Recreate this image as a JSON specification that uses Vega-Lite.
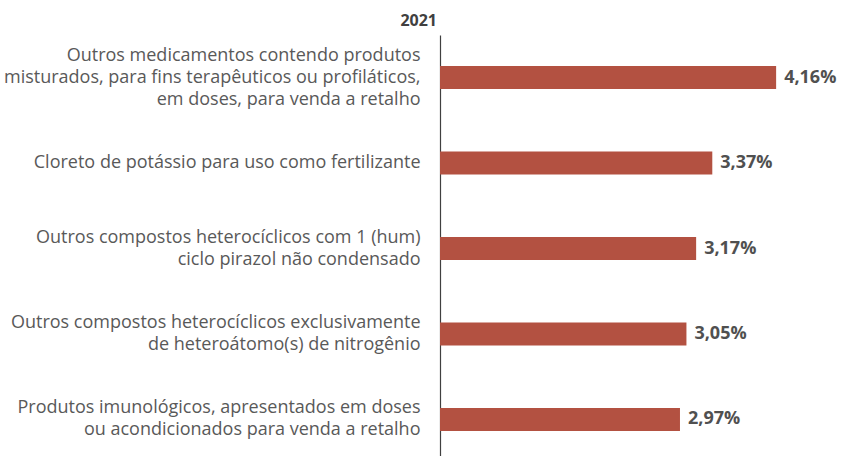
{
  "$schema": "https://vega.github.io/schema/vega-lite/v6.json",
  "autosize": {"type": "none"},
  "padding": {"left": 440, "top": 35, "right": 0, "bottom": 0},
  "width": 404,
  "height": 427,
  "background": "white",
  "config": {"view": {"stroke": null}, "font": "Open Sans"},
  "title": {"text": "2021", "anchor": "start", "frame": "group", "align": "right", "dx": -3, "offset": 6, "fontSize": 16, "fontWeight": "bold", "color": "#404040", "font": "Open Sans"},
  "data": {"values": [
    {"produto": "Outros medicamentos contendo produtos|misturados, para fins terapêuticos ou profiláticos,|em doses, para venda a retalho", "valor": 4.16, "rotulo": "4,16%"},
    {"produto": "Cloreto de potássio para uso como fertilizante", "valor": 3.37, "rotulo": "3,37%"},
    {"produto": "Outros compostos heterocíclicos com 1 (hum)|ciclo pirazol não condensado", "valor": 3.17, "rotulo": "3,17%"},
    {"produto": "Outros compostos heterocíclicos exclusivamente|de heteroátomo(s) de nitrogênio", "valor": 3.05, "rotulo": "3,05%"},
    {"produto": "Produtos imunológicos, apresentados em doses|ou acondicionados para venda a retalho", "valor": 2.97, "rotulo": "2,97%"}
  ]},
  "encoding": {
    "y": {"field": "produto", "type": "nominal", "sort": null,
      "scale": {"paddingInner": 0.73, "paddingOuter": 0.363},
      "axis": {"title": null, "ticks": false, "domainColor": "#404040", "domainWidth": 1.2, "labelPadding": 20, "labelFontSize": 18, "labelColor": "#595959", "labelLineHeight": 22, "labelLimit": 500, "labelExpr": "split(datum.label, '|')", "labelFont": "Open Sans",
        "labelOffset": {"condition": [
          {"test": "length(split(datum.label, '|')) == 3", "value": -22},
          {"test": "length(split(datum.label, '|')) == 2", "value": -11}
        ], "value": 0}}},
    "x": {"field": "valor", "type": "quantitative", "scale": {"domain": [0, 5]}, "axis": null}
  },
  "layer": [
    {"mark": {"type": "bar", "color": "#B35141"}},
    {"mark": {"type": "text", "align": "left", "dx": 8, "fontSize": 18, "fontWeight": "bold", "color": "#505050", "font": "Open Sans"},
     "encoding": {"text": {"field": "rotulo"}}}
  ]
}
